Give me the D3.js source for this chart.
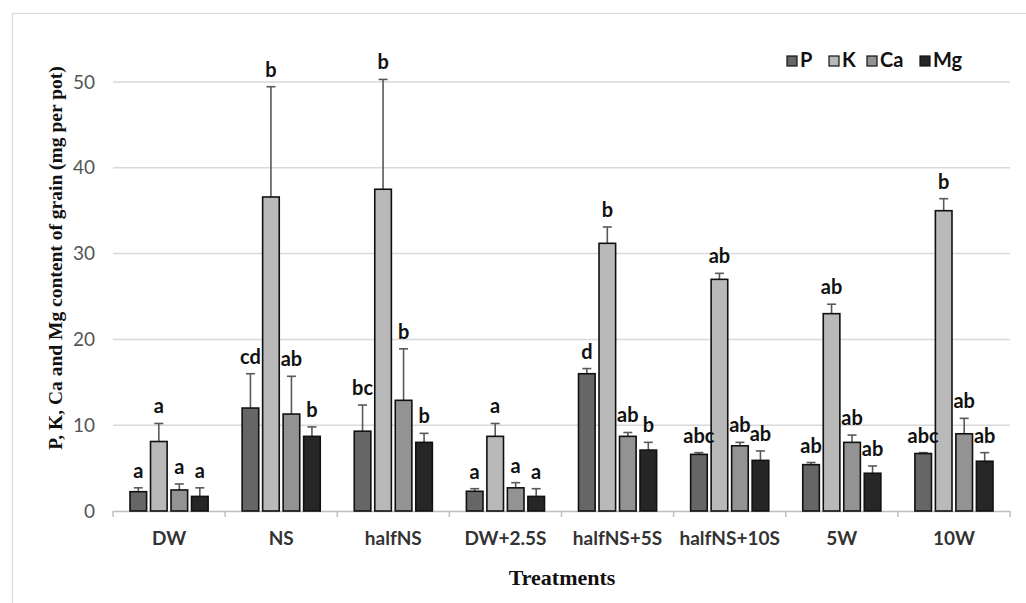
<!DOCTYPE html>
<html>
<head>
<meta charset="utf-8">
<script src="https://cdn.jsdelivr.net/npm/d3@7/dist/d3.min.js"></script>
<style>
  html, body { margin: 0; padding: 0; background: #fff; }
  svg { display: block; }
</style>
</head>
<body>
<svg id="chart" width="1026" height="603"></svg>
<script>
// Treatments and nutrients
const treatments = ["DW", "NS", "halfNS", "DW+2.5S", "halfNS+5S", "halfNS+10S", "5W", "10W"];
const nutrients = ["P", "K", "Ca", "Mg"];

// Mean content (mg per pot), one array per nutrient, in treatment order
const meanP  = [2.25, 12.0, 9.3, 2.3, 16.0, 6.6, 5.4, 6.7];
const meanK  = [8.1, 36.6, 37.5, 8.7, 31.2, 27.0, 23.0, 35.0];
const meanCa = [2.45, 11.3, 12.9, 2.7, 8.7, 7.6, 8.0, 9.0];
const meanMg = [1.7, 8.7, 8.0, 1.7, 7.1, 5.9, 4.4, 5.8];

// Upper error bar (standard error) for each mean
const seP  = [0.45, 4.0, 3.05, 0.3, 0.6, 0.2, 0.25, 0.1];
const seK  = [2.1, 12.85, 12.8, 1.5, 1.9, 0.7, 1.1, 1.4];
const seCa = [0.7, 4.4, 6.0, 0.6, 0.45, 0.4, 0.85, 1.8];
const seMg = [1.0, 1.1, 1.05, 0.9, 0.9, 1.1, 0.85, 1.0];

// Significance letters
const letP  = ["a", "cd", "bc", "a", "d", "abc", "ab", "abc"];
const letK  = ["a", "b", "b", "a", "b", "ab", "ab", "b"];
const letCa = ["a", "ab", "b", "a", "ab", "ab", "ab", "ab"];
const letMg = ["a", "b", "b", "a", "b", "ab", "ab", "ab"];

// Y axis ticks
const yTicks = [0, 10, 20, 30, 40, 50];

const means = { P: meanP, K: meanK, Ca: meanCa, Mg: meanMg };
const errs = { P: seP, K: seK, Ca: seCa, Mg: seMg };
const letters = { P: letP, K: letK, Ca: letCa, Mg: letMg };
const fills = { P: "#666666", K: "#b9b9b9", Ca: "#939393", Mg: "#262626" };

const sans = "Lato, 'Open Sans', sans-serif";
const serif = "'Liberation Serif', 'Times New Roman', serif";

const svg = d3.select("#chart");

// outer frame
svg.append("rect")
  .attr("x", 12.5).attr("y", 13.5).attr("width", 1040).attr("height", 620)
  .attr("fill", "none").attr("stroke", "#d9d9d9").attr("stroke-width", 1.2);

const plotLeft = 113, plotRight = 1010, plotTop = 82, plotBottom = 511;

const y = d3.scaleLinear().domain([0, 50]).range([plotBottom, plotTop]);
const x0 = d3.scaleBand().domain(treatments).range([plotLeft, plotRight]).padding(0);
const groupW = 82;
const x1 = d3.scaleBand().domain(nutrients).range([0, groupW]).paddingInner(0.19).paddingOuter(0.095);

// gridlines
svg.append("g").selectAll("line")
  .data(yTicks.filter(d => d > 0))
  .join("line")
  .attr("x1", plotLeft).attr("x2", plotRight)
  .attr("y1", d => y(d)).attr("y2", d => y(d))
  .attr("stroke", "#d9d9d9").attr("stroke-width", 1.5);

// y tick labels
const yAxis = svg.append("g")
  .attr("transform", `translate(${plotLeft},0)`)
  .call(d3.axisLeft(y).tickValues(yTicks).tickSize(0).tickPadding(18));
yAxis.select(".domain").remove();
yAxis.selectAll("text")
  .attr("font-family", sans)
  .attr("font-size", 19).attr("fill", "#555");

// x axis line and category ticks
const xAxis = svg.append("g")
  .attr("transform", `translate(0,${plotBottom})`)
  .call(d3.axisBottom(x0).tickSize(0).tickPadding(21));
xAxis.select(".domain").attr("stroke", "#bfbfbf").attr("stroke-width", 1.5);
xAxis.selectAll("text")
  .attr("font-family", sans)
  .attr("font-size", 19).attr("font-weight", "bold").attr("fill", "#333");
const boundaries = treatments.map(t => x0(t)).concat([x0(treatments[treatments.length - 1]) + x0.bandwidth()]);
svg.append("g").selectAll("line")
  .data(boundaries)
  .join("line")
  .attr("x1", d => d).attr("x2", d => d)
  .attr("y1", plotBottom).attr("y2", plotBottom + 6)
  .attr("stroke", "#bfbfbf").attr("stroke-width", 1.5);

// bars
const records = [];
treatments.forEach((t, i) => {
  nutrients.forEach(n => {
    records.push({ t, n, v: means[n][i], e: errs[n][i], l: letters[n][i] });
  });
});
const bx = d => x0(d.t) + (x0.bandwidth() - groupW) / 2 + x1(d.n);

const marks = svg.append("g");

// error bars (drawn first so the bar covers the stem base)
marks.selectAll(".err")
  .data(records)
  .join("g")
  .attr("class", "err")
  .each(function(d) {
    const g = d3.select(this);
    const cx = bx(d) + x1.bandwidth() / 2;
    g.append("line")
      .attr("x1", cx).attr("x2", cx)
      .attr("y1", y(d.v)).attr("y2", y(d.v + d.e))
      .attr("stroke", "#595959").attr("stroke-width", 1.6);
    g.append("line")
      .attr("x1", cx - 4.5).attr("x2", cx + 4.5)
      .attr("y1", y(d.v + d.e)).attr("y2", y(d.v + d.e))
      .attr("stroke", "#595959").attr("stroke-width", 1.6);
  });

marks.selectAll(".bar")
  .data(records)
  .join("rect")
  .attr("class", "bar")
  .attr("x", d => bx(d))
  .attr("width", x1.bandwidth())
  .attr("y", d => y(d.v))
  .attr("height", d => y(0) - y(d.v))
  .attr("fill", d => fills[d.n])
  .attr("stroke", "#111").attr("stroke-width", 1.6);

// significance letters
marks.selectAll(".let")
  .data(records)
  .join("text")
  .attr("class", "let")
  .attr("x", d => bx(d) + x1.bandwidth() / 2)
  .attr("y", d => y(d.v + d.e) - 10)
  .attr("text-anchor", "middle")
  .attr("font-family", sans)
  .attr("font-size", 20).attr("font-weight", "bold").attr("fill", "#111")
  .text(d => d.l);

// legend
const legendX = [787, 829, 867, 920];
const legend = svg.append("g").selectAll("g")
  .data(nutrients)
  .join("g")
  .attr("transform", (d, i) => `translate(${legendX[i]},56)`);
legend.append("rect")
  .attr("width", 10).attr("height", 10)
  .attr("fill", d => fills[d]).attr("stroke", "#111").attr("stroke-width", 1.2);
legend.append("text")
  .attr("x", 13).attr("y", 11)
  .attr("font-family", sans)
  .attr("font-size", 20).attr("font-weight", "bold").attr("fill", "#111")
  .text(d => d);

// axis titles
svg.append("text")
  .attr("transform", `translate(62,${(63 + 453) / 2}) rotate(-90)`)
  .attr("text-anchor", "middle")
  .attr("font-family", serif)
  .attr("font-size", 19.5).attr("font-weight", "bold").attr("fill", "#111")
  .text("P, K, Ca and Mg content of grain (mg per pot)");

svg.append("text")
  .attr("x", 562).attr("y", 585)
  .attr("text-anchor", "middle")
  .attr("font-family", serif)
  .attr("font-size", 22).attr("font-weight", "bold").attr("fill", "#111")
  .text("Treatments");
</script>
</body>
</html>
